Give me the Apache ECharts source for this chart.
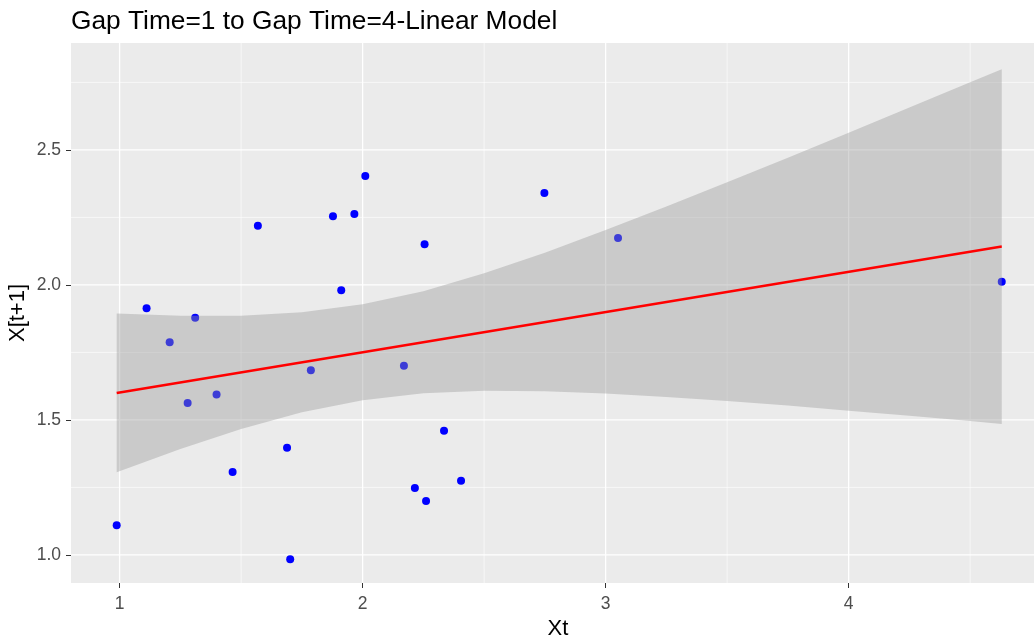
<!DOCTYPE html>
<html>
<head>
<meta charset="utf-8">
<title>Gap Time=1 to Gap Time=4-Linear Model</title>
<script src="https://cdn.jsdelivr.net/npm/echarts@6/dist/echarts.min.js"></script>
<style>
  html, body { margin: 0; padding: 0; background: #ffffff; overflow: hidden; }
  #chart { width: 1034px; height: 640px; }
</style>
</head>
<body>
<div id="chart"></div>
<script>
// Observed pairs: value at time t and at time t+1
const xt = [0.988, 1.111, 1.206, 1.311, 1.280, 1.399, 1.465, 1.569, 1.689, 1.702,
            1.787, 1.878, 1.912, 1.966, 2.011, 2.170, 2.255, 2.215, 2.261, 2.335,
            2.405, 2.748, 3.051, 4.630];
const xt1 = [1.110, 1.914, 1.788, 1.878, 1.563, 1.594, 1.307, 2.219, 1.397, 0.984,
             1.684, 2.254, 1.980, 2.263, 2.403, 1.701, 2.151, 1.248, 1.200, 1.460,
             1.275, 2.340, 2.174, 2.012];

// Fitted linear model line
const fitX = [0.988, 4.630];
const fitY = [1.600, 2.142];

// Confidence band around the fitted line
const bandX    = [0.988, 1.25, 1.5, 1.75, 2.0, 2.25, 2.5, 2.75, 3.0, 3.25, 3.5, 3.75, 4.0, 4.25, 4.5, 4.630];
const bandLow  = [1.306, 1.392, 1.466, 1.528, 1.573, 1.599, 1.608, 1.606, 1.598, 1.585, 1.570, 1.553, 1.534, 1.515, 1.496, 1.485];
const bandHigh = [1.894, 1.886, 1.886, 1.899, 1.928, 1.977, 2.043, 2.119, 2.203, 2.290, 2.380, 2.471, 2.564, 2.657, 2.751, 2.799];

// Axis ticks and grid lines
const xTicks = [1, 2, 3, 4];
const xMinorGrid = [1.5, 2.5, 3.5, 4.5];
const yTicks = [1.0, 1.5, 2.0, 2.5];
const yMinorGrid = [1.25, 1.75, 2.25, 2.75];

// The panel runs slightly past the right edge of the page
const xRange = [0.80, 4.808];
const yRange = [0.896, 2.896];

const FONT = "'Liberation Sans', Arial, sans-serif";

// grid rows: [value, isMajor, isVertical]
const gridRows = []
  .concat(xMinorGrid.map(v => [v, 0, 1]))
  .concat(yMinorGrid.map(v => [v, 0, 0]))
  .concat(xTicks.map(v => [v, 1, 1]))
  .concat(yTicks.map(v => [v, 1, 0]));

const bandRows = bandX.map((x, i) => [x, bandLow[i], bandHigh[i]]);

const chart = echarts.init(document.getElementById('chart'), null, { renderer: 'canvas' });

chart.setOption({
  animation: false,
  backgroundColor: '#ffffff',
  title: {
    text: 'Gap Time=1 to Gap Time=4-Linear Model',
    left: 71,
    top: 9,
    padding: 0,
    textStyle: { fontFamily: FONT, fontSize: 26.3, fontWeight: 'normal', color: '#000000' }
  },
  grid: {
    left: 71, right: -11, top: 43, bottom: 57,
    outerBoundsMode: 'none',
    containLabel: false,
    show: true, backgroundColor: '#EBEBEB', borderWidth: 0
  },
  xAxis: {
    type: 'value',
    min: xRange[0], max: xRange[1],
    name: 'Xt',
    nameLocation: 'middle',
    nameGap: 35,
    nameMoveOverlap: false,
    nameTextStyle: { fontFamily: FONT, fontSize: 22, color: '#000000' },
    axisLine: { show: false },
    splitLine: { show: false },
    axisTick: { show: true, customValues: xTicks, length: 5, lineStyle: { color: '#333333', width: 1 } },
    axisLabel: {
      customValues: xTicks, margin: 12,
      fontFamily: FONT, fontSize: 17.5, color: '#4D4D4D',
      formatter: v => String(v)
    }
  },
  yAxis: {
    type: 'value',
    min: yRange[0], max: yRange[1],
    name: 'X[t+1]',
    nameLocation: 'middle',
    nameGap: 42,
    nameMoveOverlap: false,
    nameRotate: 90,
    nameTextStyle: { fontFamily: FONT, fontSize: 22, color: '#000000' },
    axisLine: { show: false },
    splitLine: { show: false },
    axisTick: { show: true, customValues: yTicks, length: 5, lineStyle: { color: '#333333', width: 1 } },
    axisLabel: {
      customValues: yTicks, margin: 10,
      fontFamily: FONT, fontSize: 17.5, color: '#4D4D4D',
      formatter: v => v.toFixed(1)
    }
  },
  series: [
    {
      // panel grid lines
      type: 'custom',
      z: 1,
      silent: true,
      clip: false,
      data: gridRows,
      encode: { x: 0, y: 0 },
      renderItem: function (params, api) {
        const v = api.value(0), major = api.value(1), vertical = api.value(2);
        const cs = params.coordSys;
        let shape;
        if (vertical) {
          const px = api.coord([v, yRange[0]])[0];
          shape = { x1: px, y1: cs.y, x2: px, y2: cs.y + cs.height };
        } else {
          const py = api.coord([xRange[0], v])[1];
          shape = { x1: cs.x, y1: py, x2: cs.x + cs.width, y2: py };
        }
        return {
          type: 'line',
          shape: shape,
          style: { stroke: '#FFFFFF', lineWidth: major ? 1.3 : 0.6 }
        };
      }
    },
    {
      type: 'scatter',
      z: 2,
      data: xt.map((x, i) => [x, xt1[i]]),
      symbol: 'circle',
      symbolSize: 8,
      itemStyle: { color: '#0000FF', opacity: 1 }
    },
    {
      // confidence band, drawn translucently over the points
      type: 'custom',
      z: 3,
      silent: true,
      data: bandRows,
      encode: { x: 0, y: [1, 2] },
      renderItem: function (params, api) {
        if (params.dataIndex !== 0) return;
        const pts = [];
        for (let i = 0; i < bandRows.length; i++) {
          pts.push(api.coord([bandRows[i][0], bandRows[i][2]]));
        }
        for (let i = bandRows.length - 1; i >= 0; i--) {
          pts.push(api.coord([bandRows[i][0], bandRows[i][1]]));
        }
        return {
          type: 'polygon',
          shape: { points: pts },
          style: { fill: 'rgba(153,153,153,0.4)' }
        };
      }
    },
    {
      type: 'line',
      z: 4,
      data: fitX.map((x, i) => [x, fitY[i]]),
      showSymbol: false,
      symbol: 'none',
      lineStyle: { color: '#FF0000', width: 2.5 }
    }
  ]
});
</script>
</body>
</html>
